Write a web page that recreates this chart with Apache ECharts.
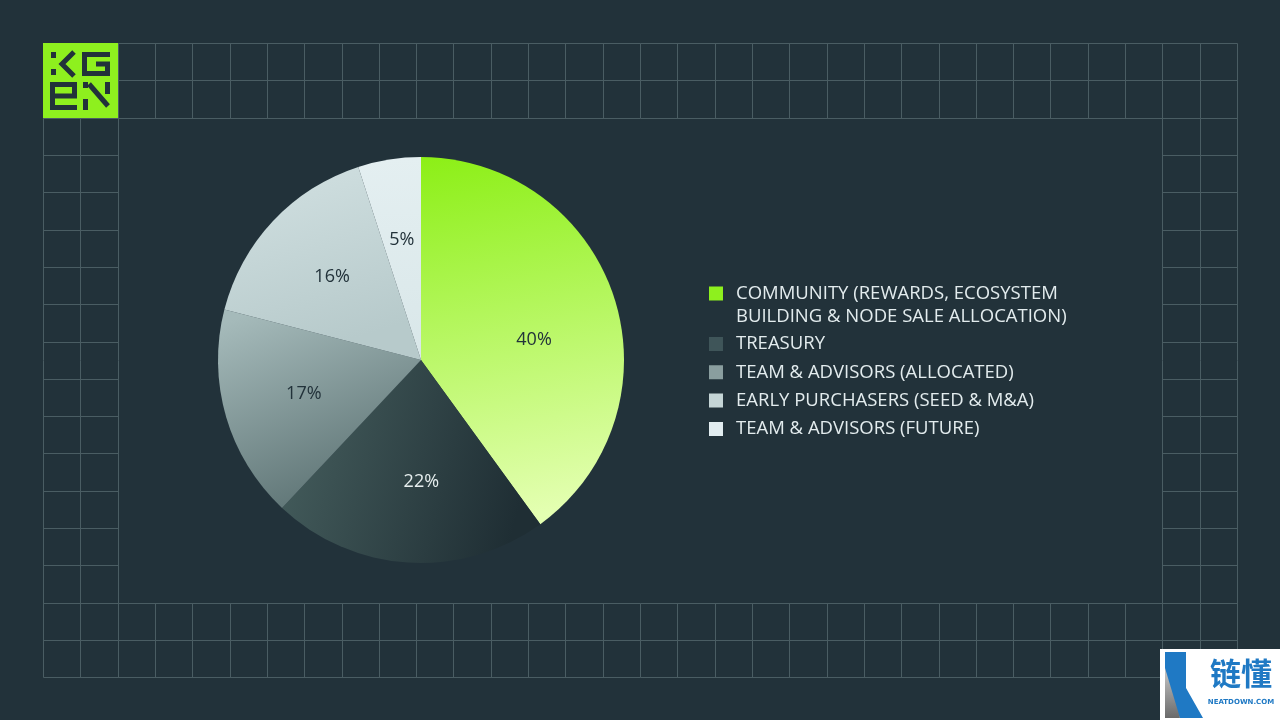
<!DOCTYPE html>
<html><head><meta charset="utf-8">
<script src="https://cdn.jsdelivr.net/npm/echarts@6/dist/echarts.min.js"></script>
<style>html,body{margin:0;padding:0;background:#22323a;}#c{width:1280px;height:720px;}</style>
</head><body><div id="c"></div>
<script>
// ---- data ----
const categories = [
  'COMMUNITY (REWARDS, ECOSYSTEM\nBUILDING & NODE SALE ALLOCATION)',
  'TREASURY',
  'TEAM & ADVISORS (ALLOCATED)',
  'EARLY PURCHASERS (SEED & M&A)',
  'TEAM & ADVISORS (FUTURE)'
];
const values = [40, 22, 17, 16, 5];

// ---- styles ----
const BG = '#22323a';
const GRID = '#4a5d63';
const legendColors = ['#8ef01e', '#3f5559', '#8a9e9f', '#c5d5d6', '#e2edf0'];
const labelColors = ['#22323a', '#e6eeee', '#22323a', '#22323a', '#22323a'];
const labelPads = [[0, 6, 0, 0], [0, 0, 0, 16], 0, 0, 0];
const labelLead = [36, 0, 0, 0, 0];
function grad(x, y, x2, y2, c1, c2) {
  return {type: 'linear', x: x, y: y, x2: x2, y2: y2, colorStops: [{offset: 0, color: c1}, {offset: 1, color: c2}]};
}
const sliceFills = [
  grad(0, 0, 0.35, 1, '#8cef16', '#e4ffb2'),
  grad(0, 0, 1, 0.35, '#47605f', '#1f2e34'),
  grad(0.2, 0, 0.6, 1, '#a5baba', '#5b7172'),
  grad(0, 0, 0.3, 1, '#d2e1e2', '#b7cacb'),
  grad(0, 0, 0, 1, '#e4eff1', '#d9e7e9')
];

const FONT = '"Open Sans"';
const chart = echarts.init(document.getElementById('c'), null, {renderer: 'canvas'});

// decorative grid frame
const cell = 1194 / 32, ox = 43, oy = 43;
const px = k => Math.round(ox + k * cell) + 0.5;
const py = k => Math.round(oy + k * cell) + 0.5;
const gfx = [];
function ln(x1, y1, x2, y2) {
  gfx.push({type: 'line', silent: true, shape: {x1, y1, x2, y2}, style: {stroke: GRID, lineWidth: 1}});
}
for (let k = 0; k <= 17; k++) {
  if (k <= 2 || k >= 15) ln(px(0), py(k), px(32), py(k));
  else { ln(px(0), py(k), px(2), py(k)); ln(px(30), py(k), px(32), py(k)); }
}
for (let k = 0; k <= 32; k++) {
  if (k <= 2 || k >= 30) ln(px(k), py(0), px(k), py(17));
  else { ln(px(k), py(0), px(k), py(2)); ln(px(k), py(15), px(k), py(17)); }
}
// logo
gfx.push({type: 'rect', silent: true, shape: {x: 43, y: 43, width: 75, height: 75}, style: {fill: '#8ef01e'}});
const logoStroke = {stroke: BG, lineWidth: 5, fill: null, lineJoin: 'miter', lineCap: 'butt'};
function pl(points) { gfx.push({type: 'polyline', silent: true, shape: {points}, style: logoStroke}); }
function sq(x, y, w, h) { gfx.push({type: 'rect', silent: true, shape: {x, y, width: w, height: h}, style: {fill: BG}}); }
// K
sq(51, 52, 5, 6); sq(51, 69, 5, 6);
pl([[74, 52], [62, 64], [74, 76]]);
// G
pl([[110, 54.5], [84.5, 54.5], [84.5, 73.5], [107.5, 73.5], [107.5, 64], [96, 64]]);
// e
pl([[77, 107.5], [52.5, 107.5], [52.5, 84.5], [74.5, 84.5], [74.5, 96], [55, 96]]);
// N
sq(83, 82, 5, 6); sq(83, 99, 5, 11);
pl([[89, 84], [108, 106]]);
sq(105, 82, 5, 12);
// watermark
gfx.push({type: 'rect', silent: true, shape: {x: 1160, y: 649, width: 120, height: 71}, style: {fill: '#ffffff'}});
gfx.push({type: 'polygon', silent: true, shape: {points: [[1165, 652], [1186, 652], [1186, 688], [1203, 718], [1180, 718], [1165, 690]]}, style: {fill: '#1f79c4'}});
gfx.push({type: 'polygon', silent: true, shape: {points: [[1165, 668], [1180, 718], [1165, 718]]}, style: {fill: grad(0, 0, 0, 1, '#c8c8c8', '#6a6a6a')}});
gfx.push({type: 'text', silent: true, style: {x: 1241, y: 673, text: '链懂', fill: '#1f79c4', font: 'bold 31px "Noto Sans CJK SC"', align: 'center', verticalAlign: 'middle'}});
gfx.push({type: 'text', silent: true, style: {x: 1241, y: 702, text: 'NEATDOWN.COM', fill: '#1f79c4', font: 'bold 7px "DejaVu Sans"', align: 'center', verticalAlign: 'middle'}});

const legendText = {color: '#e3ecee', fontSize: 18.5, fontFamily: FONT, lineHeight: 23};

const option = {
  backgroundColor: BG,
  animation: false,
  graphic: gfx,
  legend: [
    {
      orient: 'vertical', left: 709, top: 282, padding: 0, selectedMode: false,
      itemWidth: 22, itemHeight: 46,
      data: [{name: categories[0], icon: 'path://M0 0h0.01v0.01H0z M0 4.5h14v14H0z M22 46h0.01v0.01H22z', itemStyle: {color: legendColors[0], borderWidth: 0}}],
      textStyle: legendText
    },
    {
      orient: 'vertical', left: 709, top: 332.5, padding: 0, selectedMode: false,
      itemWidth: 22, itemHeight: 14, itemGap: 5.3,
      data: categories.slice(1).map((n, i) => ({name: n, icon: 'path://M0 0h14v14H0z M22 7h0.01v0.01H22z', itemStyle: {color: legendColors[i + 1], borderWidth: 0}})),
      textStyle: legendText
    }
  ],
  series: [
    {
      type: 'pie', center: [421, 360], radius: [0, 203], startAngle: 90, clockwise: true,
      silent: true, label: {show: false}, labelLine: {show: false},
      data: categories.map((n, i) => ({name: n, value: values[i], itemStyle: {color: sliceFills[i], borderWidth: 0}}))
    },
    {
      type: 'pie', center: [421, 360], radius: [0, 238], startAngle: 90, clockwise: true,
      silent: true, labelLine: {show: false},
      label: {show: true, position: 'inside', fontSize: 18, fontFamily: FONT,
        formatter: p => labelLead[p.dataIndex] ? '{sp|}\n{v|' + p.value + '%}' : p.value + '%',
        rich: {sp: {height: 1}, v: {fontSize: 18, fontFamily: FONT}}},
      data: categories.map((n, i) => ({
        name: n, value: values[i],
        itemStyle: {color: 'rgba(0,0,0,0)', borderWidth: 0},
        label: {color: labelColors[i], padding: labelPads[i],
          rich: {sp: {height: labelLead[i] || 1}, v: {fontSize: 18, fontFamily: FONT, color: labelColors[i], lineHeight: labelLead[i] || 24}}}
      }))
    }
  ]
};
chart.setOption(option);
</script>
</body></html>
